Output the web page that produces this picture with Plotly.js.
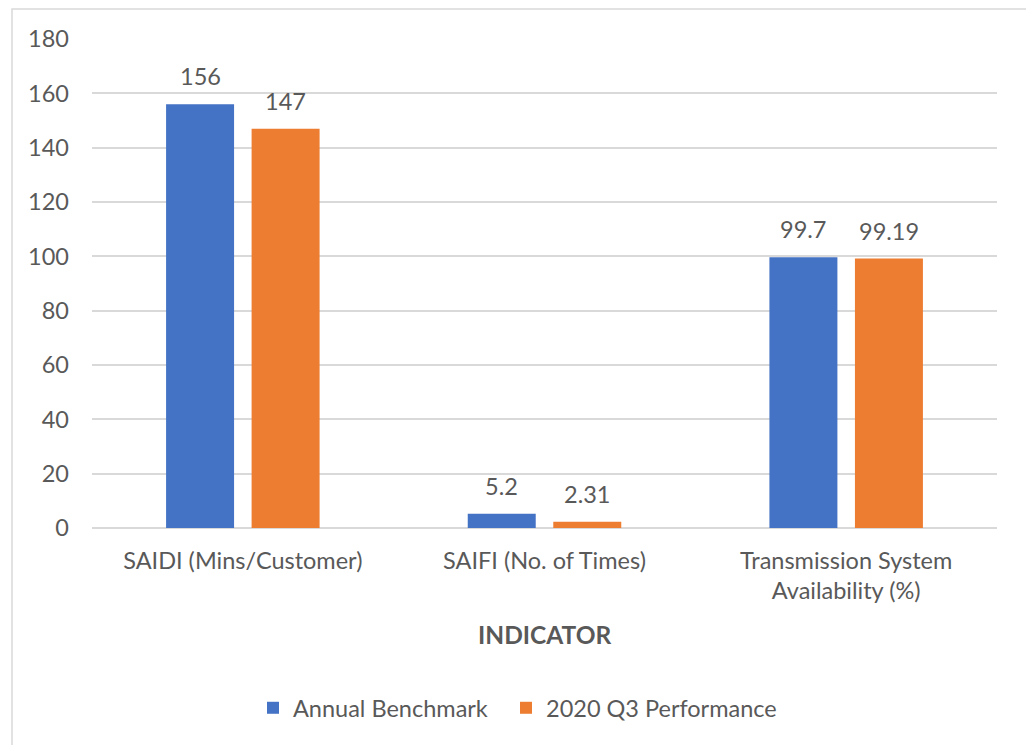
<!DOCTYPE html>
<html>
<head>
<meta charset="utf-8">
<script src="https://cdn.plot.ly/plotly-3.0.1.min.js"></script>
<style>
html,body{margin:0;padding:0;background:#fff;}
#chart{width:1026px;height:745px;}
</style>
</head>
<body>
<div id="chart"></div>
<script>
const categories = ["SAIDI (Mins/Customer)", "SAIFI (No. of Times)", "Transmission System<br>Availability (%)"];
const seriesNames = ["Annual Benchmark", "2020 Q3 Performance"];
const benchmark = [156, 5.2, 99.7];
const q3Performance = [147, 2.31, 99.19];
const benchmarkLabels = ["156", "5.2", "99.7"];
const q3Labels = ["147", "2.31", "99.19"];
const yTicks = [0, 20, 40, 60, 80, 100, 120, 140, 160, 180];

const FONT = "Lato, 'Open Sans', sans-serif";
const TXT = "#595959";
const colors = ["#4472C4", "#ED7D31"];
const FS = 23.5;

const traces = [
  {type: "bar", name: seriesNames[0], x: categories, y: benchmark, marker: {color: colors[0]}, hoverinfo: "y", legend: "legend"},
  {type: "bar", name: seriesNames[1], x: categories, y: q3Performance, marker: {color: colors[1]}, hoverinfo: "y", legend: "legend2"}
];

const ml = 92, mr = 29, mt = 39, mb = 217;
const W = 1026, H = 745;
const pw = W - ml - mr, ph = H - mt - mb;
const px2x = p => (p - ml) / pw;
const py2y = p => (H - mb - p) / ph;

const catW = pw / categories.length;
const bargap = 0.433;
const slot = catW * (1 - bargap) / 2;

const annotations = [];
[[benchmark, benchmarkLabels, -1], [q3Performance, q3Labels, 1]].forEach(([vals, labs, side]) => {
  vals.forEach((v, j) => {
    annotations.push({
      x: categories[j], y: v, xref: "x", yref: "y",
      text: labs[j], showarrow: false, yanchor: "bottom",
      xshift: side * slot / 2, yshift: 12,
      font: {family: FONT, size: FS, color: TXT}
    });
  });
});
annotations.push({
  text: "<b>INDICATOR</b>", xref: "paper", yref: "paper",
  x: 0.5, y: py2y(634), xanchor: "center", yanchor: "middle",
  showarrow: false, font: {family: FONT, size: 24.5, color: TXT}
});

const legendBase = {
  orientation: "h", yanchor: "middle", y: py2y(708), xanchor: "left",
  font: {family: FONT, size: FS, color: TXT}, itemwidth: 30,
  bgcolor: "rgba(0,0,0,0)"
};

const layout = {
  width: W, height: H,
  margin: {l: ml, r: mr, t: mt, b: mb, pad: 0},
  paper_bgcolor: "#ffffff", plot_bgcolor: "#ffffff",
  font: {family: FONT, color: TXT, size: FS},
  barmode: "group", bargap: bargap, bargroupgap: 0.205,
  showlegend: true,
  legend: Object.assign({}, legendBase, {x: px2x(253)}),
  legend2: Object.assign({}, legendBase, {x: px2x(506)}),
  xaxis: {
    type: "category", showgrid: false, showline: false, zeroline: false,
    ticks: "", tickfont: {family: FONT, size: FS, color: TXT}, ticklabelstandoff: 16,
    fixedrange: true
  },
  yaxis: {
    range: [0, 180], tickvals: yTicks, ticktext: yTicks.map(String),
    showgrid: true, gridcolor: "#d9d9d9", gridwidth: 1.5,
    zeroline: true, zerolinecolor: "#d9d9d9", zerolinewidth: 1.5,
    showline: false, ticks: "", ticklabelstandoff: 22,
    tickfont: {family: FONT, size: FS, color: TXT}, fixedrange: true
  },
  shapes: [{
    type: "rect", xref: "paper", yref: "paper", layer: "below",
    x0: px2x(12), x1: px2x(1040), y0: py2y(760), y1: py2y(9),
    line: {color: "#d9d9d9", width: 1.5}, fillcolor: "rgba(0,0,0,0)"
  }],
  annotations: annotations
};

Plotly.newPlot("chart", traces, layout, {displayModeBar: false, staticPlot: false});
</script>
</body>
</html>
